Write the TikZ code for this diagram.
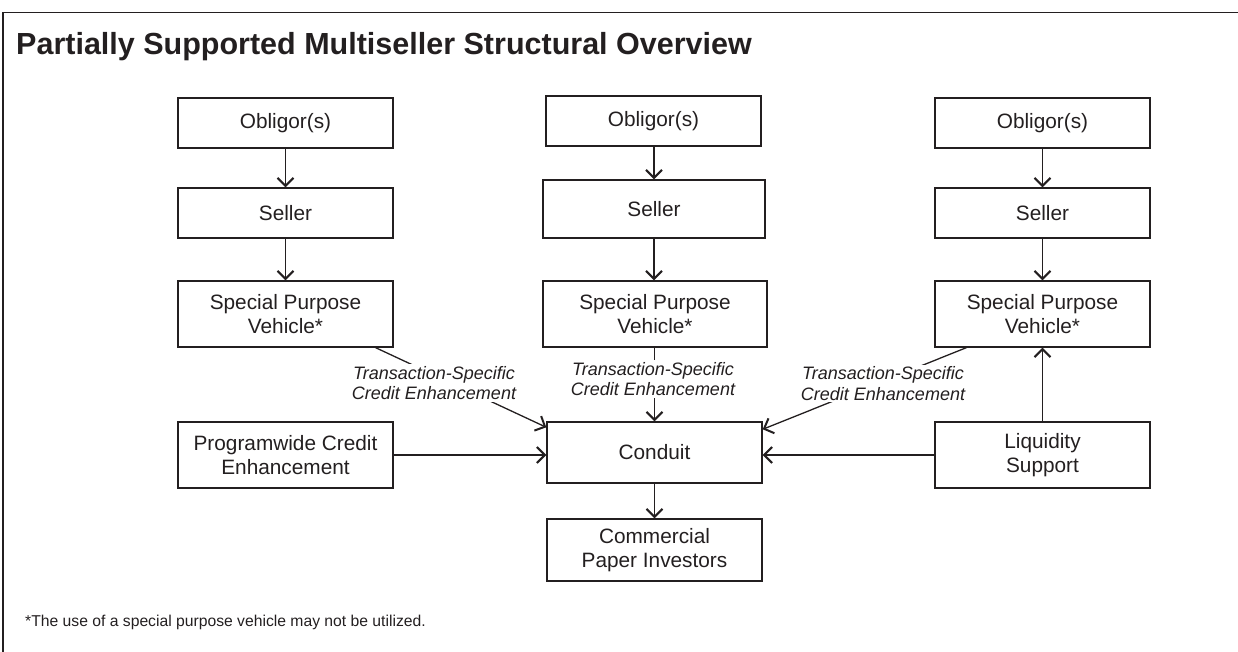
\documentclass[tikz,border=0pt]{standalone}
\usepackage{fontspec}
\setmainfont{Liberation Sans}
\usepackage{tikz}
\usetikzlibrary{arrows.meta}
\usetikzlibrary{positioning}
\definecolor{ink}{HTML}{231F20}

\begin{document}
\begin{tikzpicture}[x=1pt, y=-1pt,
  boxes/.style={draw=ink, line width=1.4pt, minimum width=215pt, minimum height=50pt, align=center, text=ink, inner sep=2pt, font=\fontsize{20.8}{23.8}\selectfont},
  paths/.style={-{Straight Barb[length=8pt,width=16pt,line width=2pt]}, draw=ink, line width=1.3pt},
  tsce/.style={fill=white, align=center, inner sep=2pt, text=ink, font=\fontsize{18}{20.5}\selectfont\itshape}]

 \useasboundingbox (0,0) rectangle (1238,652);
 \draw [ink, line width=1.4pt] (3,652) -- (3,12.5) -- (1238,12.5);

 \node [anchor=base west, inner sep=0, text=ink, font=\fontsize{30.5}{36}\selectfont\bfseries] (title) at (16,55)
     {Partially Supported Multiseller Structural Overview};

 % three seller chains
 \node [boxes] (obligor_1) at (285.5,123) {Obligor(s)};
 \node [boxes] (obligor_2) at (653.5,121) {Obligor(s)};
 \node [boxes] (obligor_3) at (1042.5,123) {Obligor(s)};

 \node [boxes] (seller_1) at (285.5,213) {Seller};
 \node [boxes, minimum width=222pt, minimum height=58pt] (seller_2) at (654,209) {Seller};
 \node [boxes] (seller_3) at (1042.5,213) {Seller};

 \node [boxes, minimum height=66pt] (spv_1) at (285.5,314) {Special Purpose\\Vehicle*};
 \node [boxes, minimum width=224pt, minimum height=66pt] (spv_2) at (655,314) {Special Purpose\\Vehicle*};
 \node [boxes, minimum height=66pt] (spv_3) at (1042.5,314) {Special Purpose\\Vehicle*};

 % conduit row
 \node [boxes, minimum height=66pt] (programwide) at (285.5,455) {Programwide Credit\\Enhancement};
 \node [boxes, minimum height=61pt] (conduit) at (654.5,452.5) {Conduit};
 \node [boxes, minimum height=66pt] (liquidity) at (1042.5,455) {Liquidity\\Support};

 \node [boxes, minimum height=62pt] (investors) at (654.5,550) {Commercial\\Paper Investors};

 \draw [paths] (obligor_1) -- (seller_1);
 \draw [paths] (obligor_2.south -| seller_2) -- (seller_2);
 \draw [paths] (obligor_3) -- (seller_3);
 \draw [paths] (seller_1) -- (spv_1);
 \draw [paths] (seller_2) -- (spv_2.north -| seller_2);
 \draw [paths] (seller_3) -- (spv_3);

 \draw [paths] ([xshift=-18pt]spv_1.south east) -- ([yshift=-6pt]conduit.north west);
 \draw [paths] (spv_2.south -| conduit) -- (conduit);
 \draw [paths] ([xshift=32pt]spv_3.south west) -- ([yshift=-8pt]conduit.north east);

 \node [tsce] (tsce_1) at (434,383) {Transaction-Specific\\Credit Enhancement};
 \node [tsce] (tsce_2) at (653,379) {Transaction-Specific\\Credit Enhancement};
 \node [tsce] (tsce_3) at (883,383.5) {Transaction-Specific\\Credit Enhancement};

 \draw [paths] (programwide.east) -- (programwide.east -| conduit.west);
 \draw [paths] (liquidity.west) -- (liquidity.west -| conduit.east);
 \draw [paths] (liquidity) -- (spv_3);
 \draw [paths] (conduit) -- (investors);

 \node [anchor=base west, inner sep=0, text=ink, font=\fontsize{15.7}{18}\selectfont] (note) at (25,626)
     {*The use of a special purpose vehicle may not be utilized.};

\end{tikzpicture}
\end{document}
